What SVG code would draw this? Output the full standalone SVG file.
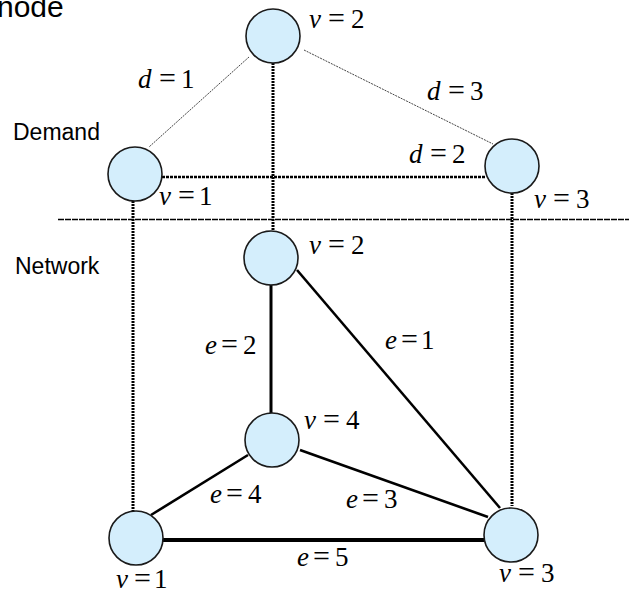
<svg xmlns="http://www.w3.org/2000/svg" width="629" height="592" viewBox="0 0 629 592">
<style>
.nd{fill:#D4EEFC;stroke:#1a1a1a;stroke-width:1.6}
.e{stroke:#000;stroke-width:2.6;fill:none}
.thin{stroke:#444;stroke-width:1;stroke-dasharray:2 1;fill:none}
.dot{stroke:#000;stroke-width:2.6;stroke-dasharray:3 1;fill:none}
.dotv{stroke:#000;stroke-width:3;stroke-dasharray:2 1;fill:none}
.sep{stroke:#000;stroke-width:1.6;stroke-dasharray:6 1;fill:none}
.m{font-family:"Liberation Serif","Times New Roman",serif;font-size:27px;fill:#000}
.i{font-style:italic}
.q{font-size:30px}
.lbl{font-family:"Liberation Sans",Arial,sans-serif;font-size:23px;fill:#000}
</style>
<text class="lbl" x="-3" y="17" style="font-size:30px">node</text>
<text class="lbl" x="13" y="140">Demand</text>
<text class="lbl" x="15" y="274">Network</text>
<g id="connectors">
<line class="thin" x1="249" y1="57" x2="149" y2="147"/>
<line class="thin" x1="304" y1="50" x2="493" y2="144"/>
<line class="dot" x1="162" y1="177" x2="485" y2="177"/>
<line class="dotv" x1="273" y1="63" x2="273" y2="231"/>
<line class="dotv" x1="133" y1="201" x2="133" y2="511"/>
<line class="dotv" x1="512" y1="193" x2="512" y2="506"/>
<line class="sep" x1="58" y1="219.5" x2="629" y2="219.5"/>
<line class="e" style="stroke-width:3" x1="271" y1="285" x2="271" y2="413"/>
<line class="e" x1="297" y1="270" x2="500" y2="508"/>
<line class="e" x1="300" y1="450" x2="488" y2="517"/>
<line class="e" x1="248" y1="455" x2="151" y2="515"/>
<line class="e" style="stroke-width:4" x1="163" y1="540" x2="485" y2="540"/>
</g>
<g id="d2"><circle class="nd" cx="273" cy="36" r="27"/></g>
<g id="d1"><circle class="nd" cx="135" cy="174" r="27"/></g>
<g id="d3"><circle class="nd" cx="512" cy="166" r="27"/></g>
<g id="n2"><circle class="nd" cx="271" cy="258" r="27"/></g>
<g id="n4"><circle class="nd" cx="272" cy="440" r="27"/></g>
<g id="n1"><circle class="nd" cx="136" cy="538" r="27"/></g>
<g id="n3"><circle class="nd" cx="511" cy="535" r="27"/></g>
<g id="labels">
<text class="m" y="28"><tspan class="i" x="309">v</tspan><tspan class="q" x="328">=</tspan><tspan x="351">2</tspan></text>
<text class="m" y="88"><tspan class="i" x="138">d</tspan><tspan class="q" x="159">=</tspan><tspan x="181">1</tspan></text>
<text class="m" y="100"><tspan class="i" x="427">d</tspan><tspan class="q" x="448">=</tspan><tspan x="470">3</tspan></text>
<text class="m" y="163"><tspan class="i" x="409">d</tspan><tspan class="q" x="430">=</tspan><tspan x="452">2</tspan></text>
<text class="m" y="205"><tspan class="i" x="159">v</tspan><tspan class="q" x="178">=</tspan><tspan x="199">1</tspan></text>
<text class="m" y="208"><tspan class="i" x="534">v</tspan><tspan class="q" x="553">=</tspan><tspan x="576">3</tspan></text>
<text class="m" y="254"><tspan class="i" x="309">v</tspan><tspan class="q" x="328">=</tspan><tspan x="351">2</tspan></text>
<text class="m" y="349"><tspan class="i" x="385">e</tspan><tspan class="q" x="401">=</tspan><tspan x="421">1</tspan></text>
<text class="m" y="354"><tspan class="i" x="205">e</tspan><tspan class="q" x="221">=</tspan><tspan x="243">2</tspan></text>
<text class="m" y="429"><tspan class="i" x="304">v</tspan><tspan class="q" x="323">=</tspan><tspan x="346">4</tspan></text>
<text class="m" y="503"><tspan class="i" x="210">e</tspan><tspan class="q" x="226">=</tspan><tspan x="248">4</tspan></text>
<text class="m" y="508"><tspan class="i" x="346">e</tspan><tspan class="q" x="362">=</tspan><tspan x="384">3</tspan></text>
<text class="m" y="566"><tspan class="i" x="297">e</tspan><tspan class="q" x="313">=</tspan><tspan x="335">5</tspan></text>
<text class="m" y="588"><tspan class="i" x="116">v</tspan><tspan class="q" x="134">=</tspan><tspan x="154">1</tspan></text>
<text class="m" y="582"><tspan class="i" x="499">v</tspan><tspan class="q" x="518">=</tspan><tspan x="541">3</tspan></text>
</g>
</svg>
